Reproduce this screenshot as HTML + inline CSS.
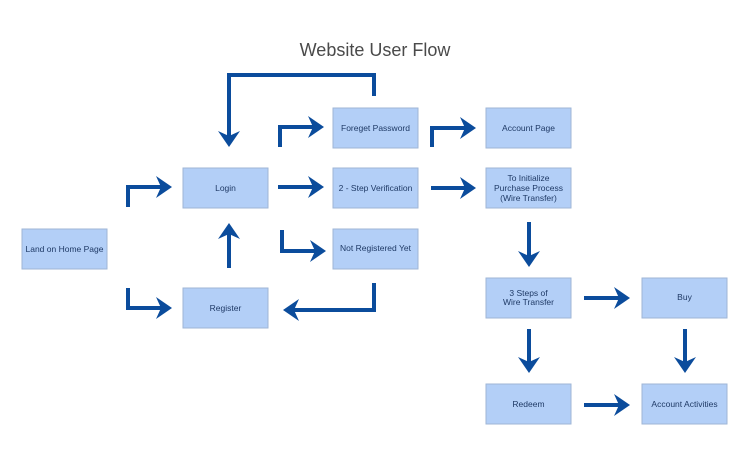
<!DOCTYPE html>
<html><head><meta charset="utf-8"><style>
html,body{margin:0;padding:0;background:#fff;width:750px;height:470px;overflow:hidden}
svg{display:block}
text{font-family:"Liberation Sans",sans-serif}
</style></head><body>
<svg width="750" height="470" viewBox="0 0 750 470" xmlns="http://www.w3.org/2000/svg">
<defs>
<marker id="a" markerUnits="userSpaceOnUse" markerWidth="16" markerHeight="24" refX="6" refY="12" orient="auto">
<path d="M0,1 L16,12 L0,23 L5,12 z" fill="#0b4c9c"/>
</marker>
</defs>
<text x="375" y="56" text-anchor="middle" font-size="18" fill="#4a4a4a">Website User Flow</text>
<g fill="#b3cff7" stroke="#9fb6d6" stroke-width="1">
<rect x="22" y="229" width="85" height="40"/>
<rect x="183" y="168" width="85" height="40"/>
<rect x="183" y="288" width="85" height="40"/>
<rect x="333" y="108" width="85" height="40"/>
<rect x="333" y="168" width="85" height="40"/>
<rect x="333" y="229" width="85" height="40"/>
<rect x="486" y="108" width="85" height="40"/>
<rect x="486" y="168" width="85" height="40"/>
<rect x="486" y="278" width="85" height="40"/>
<rect x="642" y="278" width="85" height="40"/>
<rect x="486" y="384" width="85" height="40"/>
<rect x="642" y="384" width="85" height="40"/>
</g>
<g font-size="8.5" fill="#1f3a66" text-anchor="middle">
<text x="64.5" y="252">Land on Home Page</text>
<text x="225.5" y="191">Login</text>
<text x="225.5" y="311">Register</text>
<text x="375.5" y="131">Foreget Password</text>
<text x="375.5" y="191">2 - Step Verification</text>
<text x="375.5" y="251">Not Registered Yet</text>
<text x="528.5" y="131">Account Page</text>
<text x="528.5" y="181">To Initialize</text>
<text x="528.5" y="191">Purchase Process</text>
<text x="528.5" y="201">(Wire Transfer)</text>
<text x="528.5" y="296">3 Steps of</text>
<text x="528.5" y="305">Wire Transfer</text>
<text x="684.5" y="300">Buy</text>
<text x="528.5" y="407">Redeem</text>
<text x="684.5" y="407">Account Activities</text>
</g>
<g fill="none" stroke="#0b4c9c" stroke-width="4" marker-end="url(#a)">
<path d="M128,207 V187 H162"/>
<path d="M128,288 V308 H162"/>
<path d="M229,268 V233"/>
<path d="M374,96 V75 H229 V137"/>
<path d="M280,147 V127 H314"/>
<path d="M278,187 H314"/>
<path d="M282,230 V251 H316"/>
<path d="M374,283 V310 H293"/>
<path d="M432,147 V128 H466"/>
<path d="M431,188 H466"/>
<path d="M529,222 V257"/>
<path d="M584,298 H620"/>
<path d="M529,329 V363"/>
<path d="M685,329 V363"/>
<path d="M584,405 H620"/>
</g>
</svg>
</body></html>
